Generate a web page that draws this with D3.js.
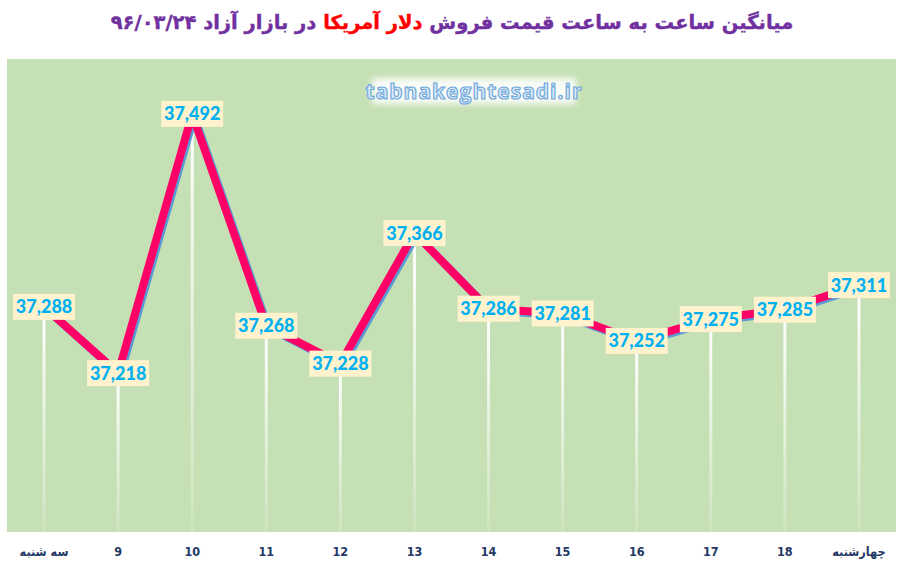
<!DOCTYPE html>
<html lang="fa">
<head>
<meta charset="UTF-8">
<title>دلار آمریکا</title>
<script src="https://cdn.jsdelivr.net/npm/d3@7/dist/d3.min.js"></script>
<style>
  body { margin: 0; background: #fff; }
</style>
</head>
<body>
<script>
// داده ها
const categories = ["سه شنبه", "9", "10", "11", "12", "13", "14", "15", "16", "17", "18", "چهارشنبه"];
const prices = [37288, 37218, 37492, 37268, 37228, 37366, 37286, 37281, 37252, 37275, 37285, 37311];
const yDomain = [37050, 37550];

const W = 902, H = 568;
const plot = { left: 7, right: 896, top: 59, bottom: 532 };

const svg = d3.select("body").append("svg")
  .attr("width", W)
  .attr("height", H);

const defs = svg.append("defs");
const grad = defs.append("linearGradient")
  .attr("id", "drop").attr("x1", 0).attr("y1", 0).attr("x2", 0).attr("y2", 1);
grad.append("stop").attr("offset", "0%").attr("stop-color", "#fff").attr("stop-opacity", 1);
grad.append("stop").attr("offset", "100%").attr("stop-color", "#fff").attr("stop-opacity", 0.15);

const glow = defs.append("filter").attr("id", "glow")
  .attr("x", "-20%").attr("y", "-40%").attr("width", "140%").attr("height", "180%");
glow.append("feGaussianBlur").attr("stdDeviation", 3);

const x = d3.scaleBand().domain(categories).range([plot.left, plot.right]);
const cx = d => x(d) + x.bandwidth() / 2;
const y = d3.scaleLinear().domain(yDomain).range([plot.bottom, plot.top]);

// پس زمینه
svg.append("rect")
  .attr("x", plot.left).attr("y", plot.top)
  .attr("width", plot.right - plot.left).attr("height", plot.bottom - plot.top)
  .attr("fill", "#c5e0b4");

// عنوان
const title = svg.append("text")
  .attr("x", 452).attr("y", 29)
  .attr("text-anchor", "middle")
  .attr("direction", "rtl")
  .style("font-family", "DejaVu Sans")
  .style("font-weight", "bold")
  .style("font-size", "19.5px")
  .attr("fill", "#7030a0")
  .attr("stroke", "#7030a0")
  .attr("stroke-width", 0.4);
title.append("tspan").text("میانگین ساعت به ساعت قیمت فروش ");
title.append("tspan").attr("fill", "#ff0000").attr("stroke", "#ff0000").text("دلار آمریکا");
title.append("tspan").text(" در بازار آزاد ۹۶/۰۳/۲۴");

// واترمارک
svg.append("rect")
  .attr("x", 372).attr("y", 78).attr("width", 204).attr("height", 26)
  .attr("fill", "#fff").attr("opacity", 0.9).attr("filter", "url(#glow)");
svg.append("text")
  .attr("x", 474).attr("y", 99)
  .attr("text-anchor", "middle")
  .style("font-family", "Open Sans")
  .style("font-weight", "bold")
  .style("font-size", "21px")
  .style("letter-spacing", "1px")
  .attr("fill", "#ddebf7")
  .attr("stroke", "#6fa8dc")
  .attr("stroke-width", 1.2)
  .text("tabnakeghtesadi.ir");

// خطوط عمودی
svg.selectAll(".drop").data(prices).enter().append("rect")
  .attr("class", "drop")
  .attr("x", (d, i) => cx(categories[i]) - 1.5)
  .attr("y", d => y(d))
  .attr("width", 3)
  .attr("height", d => plot.bottom - y(d))
  .attr("fill", "url(#drop)");

// خط
const line = d3.line()
  .x((d, i) => cx(categories[i]))
  .y(d => y(d));

svg.append("path")
  .datum(prices)
  .attr("d", line)
  .attr("transform", "translate(2,2)")
  .attr("fill", "none")
  .attr("stroke", "#5b9bd5")
  .attr("stroke-width", 8)
  .attr("stroke-linejoin", "miter");

svg.append("path")
  .datum(prices)
  .attr("d", line)
  .attr("fill", "none")
  .attr("stroke", "#ff0066")
  .attr("stroke-width", 8)
  .attr("stroke-linejoin", "miter");

// برچسب ها
const fmt = d3.format(",");
const lab = svg.selectAll(".lab").data(prices).enter().append("g")
  .attr("class", "lab")
  .attr("transform", (d, i) => `translate(${cx(categories[i])},${y(d)})`);

lab.append("rect")
  .attr("x", -31).attr("y", -13)
  .attr("width", 62).attr("height", 26)
  .attr("fill", "#fff2cc");

lab.append("text")
  .attr("text-anchor", "middle")
  .attr("dy", "0.36em")
  .style("font-family", "Lato")
  .style("font-weight", "900")
  .style("font-size", "18px")
  .attr("fill", "#00b0f0")
  .text(d => fmt(d));

// محور افقی
svg.selectAll(".xl").data(categories).enter().append("text")
  .attr("class", "xl")
  .attr("x", d => cx(d))
  .attr("y", 556)
  .attr("text-anchor", "middle")
  .style("font-family", "DejaVu Sans Condensed")
  .style("font-weight", "bold")
  .style("font-size", "12.5px")
  .attr("fill", "#1f3864")
  .text(d => d);
</script>
</body>
</html>
